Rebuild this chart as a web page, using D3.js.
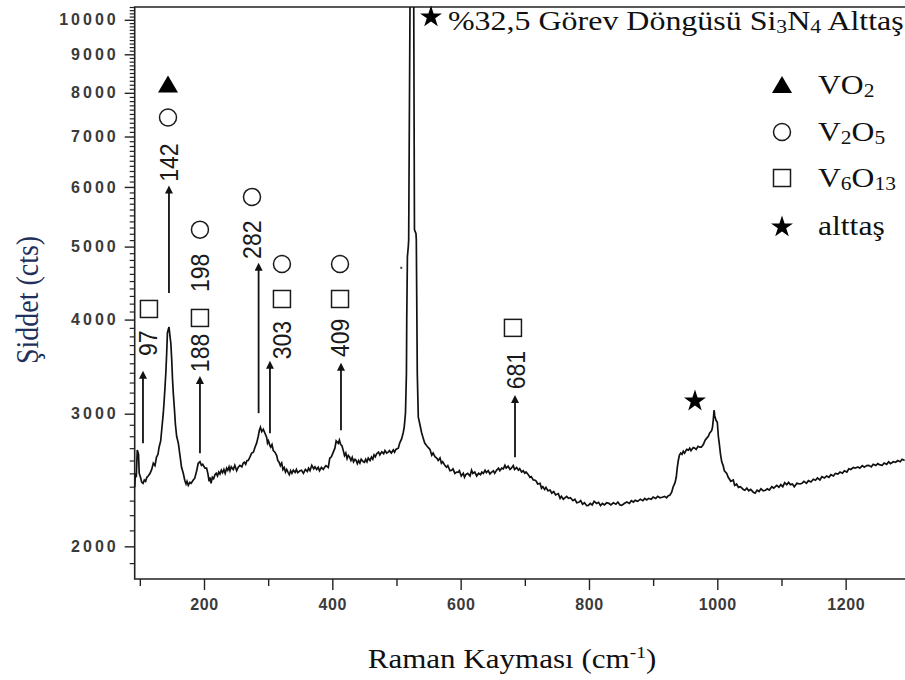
<!DOCTYPE html>
<html><head><meta charset="utf-8">
<script src="https://cdn.jsdelivr.net/npm/d3@7"></script>
<style>body{margin:0;background:#fff}svg{display:block}</style>
</head><body>
<script>
// ---- data ----
const spectrumShift = [92,93,94.5,96,98,99,101,103,105,107,109,111,113,116,118.5,121,123.6,126,128.3,130,132.5,134.5,136.5,138,139.2,140.5,141.8,143,144.3,145.5,147,148.3,149.6,151,152.1,154,155.5,157.4,160,162.6,165,167.7,170,172,173.5,175.5,178,180,183.3,185.5,188.6,191,193.7,196,198,201.5,204,206,208,209.3,211,213,215,217.1,219,221,223,224.9,227,229,231,233,235.3,237,239,240.5,242.5,245.6,248,250.9,253.4,256,259,261.2,263,265,267,269,271.5,274.3,277,279.5,282,284.6,286.2,288,290,292.4,295,297.7,299,300.5,302.8,304,306,308,310.5,313.3,315,317,319,321.1,323,325,327,328.9,331,333,335,337,339.2,342,344,346,349.6,352,355,358,361,363,365.2,368,371,373,375.6,378,380,383,385.9,388,390,393.7,396,398.5,401.5,404,406,409.3,411,413,415,417.1,419,421,423,424.9,427,429,431,433,435.3,437,439,441,443,445,448.3,450,452,454,456,458.7,461,463,465,467,469.1,472,474,477,480,482,484.7,487,489,492,495,497,499,502.8,505,508.1,510.6,512,513.2,514,514.8,515.5,516,517,518.4,519,522.3,525.5,526.2,528,530.4,530.9,532.4,534,536.6,539,541.8,544,547.1,549,552.2,555,557,560,563,565,567.8,570,572,575.6,578,580,583.4,586,588,591,593.8,596,598,601,604.1,606,608,611,614.6,617,619,622,625,628,631,633,635.3,638,640,643,645.7,648,651,653,656.2,659,661,664,666.5,669,671,674,676.9,679,682,684,687.3,690,692,695,697.6,700,702,705.4,708,710,713.2,716,718,720,723.7,726,728,731,733,736,739.3,742,745,748,752.2,755,757,760,765.3,768,771,775,778,780.9,784,787,790,793,796.4,799,802,805,808,812,815,818,821,824,827.6,831,834,838,842,845,848.3,851,855,859,863,866,869.1,872,876,880,884,887,890,893,897,900,904,907,910.7,914,918,921,923.6,926,928.9,931,934.1,936,937.5,939.2,941,943,945,947,949,952.3,955,957,959,962.6,965,967,970,973,975,978.2,981,983,986,988,991.3,992.5,993.8,995,996,998,1000,1001.6,1003,1005,1006.9,1009,1011,1014.7,1017,1019,1021,1024.9,1027,1030,1033,1036,1040.5,1043,1046,1049,1052,1056.1,1059,1062,1065,1068,1071.7,1075,1078,1081,1085,1088,1092.6,1096,1099,1102,1105,1108.2,1111,1114,1117,1120,1124,1128.9,1132,1135,1139,1142,1146,1149.6,1153,1156,1160,1163,1167,1170.5,1174,1177,1181,1184,1188,1191.2,1195,1198,1202,1205,1208,1212,1215,1219,1222,1226,1229,1232.9,1236,1240,1243,1247,1250,1253.6,1257,1260,1264,1267,1270,1274.3,1278,1281,1285,1288,1292];
const spectrumCounts = [2396,2500,2470,2684,2650,2501,2470,2432,2425,2450,2440,2470,2480,2501,2530,2578,2560,2627,2650,2708,2760,2878,3000,3128,3250,3397,3600,3840,3880,3910,3800,3724,3550,3326,3200,3034,2900,2800,2742,2640,2547,2501,2448,2420,2440,2410,2432,2425,2450,2462,2520,2578,2590,2562,2570,2540,2540,2500,2440,2470,2425,2470,2460,2490,2501,2480,2510,2495,2524,2505,2530,2500,2540,2524,2550,2520,2550,2530,2562,2520,2547,2562,2550,2580,2586,2570,2600,2600,2627,2660,2667,2708,2742,2800,2850,2878,2840,2860,2826,2790,2742,2760,2720,2708,2730,2680,2667,2640,2600,2586,2560,2580,2530,2545,2510,2530,2508,2490,2520,2500,2525,2508,2530,2505,2520,2524,2500,2530,2515,2540,2520,2562,2535,2550,2530,2547,2520,2545,2530,2547,2560,2545,2618,2630,2667,2700,2760,2740,2767,2730,2720,2680,2640,2660,2615,2640,2627,2600,2625,2590,2610,2602,2575,2600,2580,2610,2590,2586,2610,2590,2620,2600,2627,2610,2645,2630,2655,2667,2645,2670,2655,2680,2660,2667,2680,2660,2685,2667,2690,2700,2742,2780,2835,2878,2950,3006,3200,3397,4000,4846,5000,5100,16000,24000,16000,5266,5200,5106,3397,2968,2900,2835,2780,2742,2720,2708,2690,2643,2660,2630,2618,2600,2620,2578,2590,2560,2547,2560,2520,2524,2535,2500,2510,2508,2520,2480,2500,2470,2490,2500,2480,2524,2500,2510,2480,2501,2490,2510,2500,2524,2505,2520,2495,2508,2520,2500,2525,2540,2520,2540,2535,2562,2540,2555,2530,2540,2560,2530,2545,2524,2535,2510,2520,2501,2510,2490,2470,2475,2450,2448,2440,2420,2425,2389,2400,2380,2395,2370,2375,2353,2365,2340,2350,2316,2330,2310,2330,2316,2320,2300,2310,2285,2288,2300,2275,2285,2265,2267,2280,2270,2295,2280,2288,2265,2280,2270,2285,2281,2270,2285,2275,2290,2270,2267,2280,2290,2280,2300,2290,2302,2295,2310,2300,2315,2305,2316,2310,2325,2315,2330,2320,2324,2330,2320,2335,2338,2360,2396,2430,2470,2540,2600,2643,2660,2650,2675,2660,2690,2684,2700,2680,2705,2700,2690,2715,2708,2708,2730,2767,2780,2800,2826,2850,2878,2950,3034,2980,2940,2923,2800,2742,2650,2590,2562,2520,2500,2470,2455,2440,2450,2410,2420,2395,2400,2380,2374,2390,2370,2380,2360,2353,2375,2365,2385,2370,2374,2385,2375,2400,2390,2410,2396,2415,2400,2430,2415,2432,2415,2420,2400,2425,2420,2425,2440,2425,2445,2435,2455,2448,2465,2450,2475,2465,2480,2470,2490,2480,2500,2495,2510,2501,2520,2510,2535,2530,2545,2540,2550,2540,2560,2548,2560,2562,2550,2570,2560,2575,2565,2562,2580,2570,2590,2575,2590,2586,2600,2590,2610,2600,2618];

const strayShift = [507.4];
const strayCounts = [4686];

const yMajorTicks = [2000,3000,4000,5000,6000,7000,8000,9000,10000];
const xMajorTicks = [200,400,600,800,1000,1200];
const xMinorTicks = [100,300,500,700,900,1100,1300];

const peakLabels = ["97","142","188","198","282","303","409","681"];
const peakLabelShift = [112.7,145.4,193.7,193.7,274.8,321.5,412,686.2];
const peakLabelCounts = [3722,6464,3612,4614,5106,3756,3782,3428];

const arrowShift = [104.9,145.4,193.7,285.1,302.8,413.5,684.7];
const arrowFrom = [2741,4338,2658,3005,2826,2852,2627];
const arrowTo   = [3346,5896,3294,4656,3450,3428,3108];

const markerType   = ["triangle","circle","square","circle","square","circle","circle","square","circle","square","square","star"];
const markerShift  = [143.9,143.9,114.2,193.7,193.7,274.8,321.5,321.5,412,412,681.5,965.2];
const markerCounts = [8208,7418,4132,5266,4020,5820,4742,4260,4742,4260,3900,3128];

const legendTypes = ["triangle","circle","square","star"];
const legendLabels = [["V","O",["2"]],["V",["2"],"O",["5"]],["V",["6"],"O",["13"]],["alttaş"]];
const titleParts = ["%32,5 Görev Döngüsü Si",["3"],"N",["4"]," Alttaş"];

// ---- chart ----
const W = 905, H = 680;
const svg = d3.select("body").append("svg").attr("width", W).attr("height", H);

const x = d3.scaleLinear().domain([92, 1300]).range([134.7, 909.8]);
const y = d3.scaleLog().domain([1810, 10400]).range([579, 7]);
const pLeft = 134.7, pRight = 909.8, pTop = 7, pBottom = 579;

const defs = svg.append("defs");
defs.append("clipPath").attr("id","plotclip")
  .append("rect").attr("x", pLeft).attr("y", pTop).attr("width", pRight-pLeft).attr("height", pBottom-pTop);
const arrowDef = defs.append("marker").attr("id","ah")
  .attr("viewBox","0 0 10 10").attr("refX",5).attr("refY",9)
  .attr("markerWidth",8).attr("markerHeight",11).attr("markerUnits","userSpaceOnUse")
  .attr("orient","0");
arrowDef.append("path").attr("d","M5,0 L10,10 L0,10 Z").attr("fill","#111");

// y minor ticks
const yMinor = d3.range(1900, 10401, 100).filter(v => !yMajorTicks.includes(v));
svg.append("g").attr("transform",`translate(${pLeft},0)`)
  .call(d3.axisLeft(y).tickValues(yMinor).tickSize(5).tickFormat(""))
  .call(g => g.select(".domain").remove())
  .call(g => g.selectAll("text").remove())
  .call(g => g.selectAll("line").attr("stroke","#222").attr("stroke-width",1.2));
svg.append("g").attr("transform",`translate(${pLeft},0)`)
  .call(d3.axisLeft(y).tickValues(yMajorTicks).tickSize(10).tickPadding(6).tickFormat(d => String(d)))
  .call(g => g.select(".domain").remove())
  .call(g => g.selectAll("line").attr("stroke","#222").attr("stroke-width",1.4))
  .call(g => g.selectAll("text").attr("font-family","Liberation Sans, Arial, sans-serif")
      .attr("font-weight","bold").attr("font-size",16).attr("fill","#3a3a3a")
      .attr("letter-spacing","3px"));

// x ticks
svg.append("g").attr("transform",`translate(0,${pBottom})`)
  .call(d3.axisBottom(x).tickValues(xMinorTicks).tickSize(7).tickFormat(""))
  .call(g => g.select(".domain").remove())
  .call(g => g.selectAll("text").remove())
  .call(g => g.selectAll("line").attr("stroke","#222").attr("stroke-width",1.4));
svg.append("g").attr("transform",`translate(0,${pBottom})`)
  .call(d3.axisBottom(x).tickValues(xMajorTicks).tickSize(11).tickPadding(9).tickFormat(d => String(d)))
  .call(g => g.select(".domain").remove())
  .call(g => g.selectAll("line").attr("stroke","#222").attr("stroke-width",1.4))
  .call(g => g.selectAll("text").attr("font-family","Liberation Sans, Arial, sans-serif")
      .attr("font-weight","bold").attr("font-size",16).attr("fill","#3a3a3a")
      .attr("letter-spacing","0.6px"));

// frame
svg.append("path").attr("d",`M${pRight},${pTop} H${pLeft} V${pBottom} H${pRight}`)
  .attr("fill","none").attr("stroke","#222").attr("stroke-width",1.6);

// spectrum
const nPts = Math.min(spectrumShift.length, spectrumCounts.length);
const pts = d3.range(nPts).map(i => [spectrumShift[i], spectrumCounts[i]]);
svg.append("path").datum(pts).attr("clip-path","url(#plotclip)")
  .attr("d", d3.line().x(d => x(d[0])).y(d => y(d[1])))
  .attr("fill","none").attr("stroke","#111").attr("stroke-width",1.7).attr("stroke-linejoin","miter");
svg.selectAll("rect.stray").data(strayShift).join("rect").attr("class","stray")
  .attr("x", d => x(d)-1).attr("y",(d,i) => y(strayCounts[i])-1).attr("width",2).attr("height",2).attr("fill","#444");

// arrows
svg.selectAll("line.arrow").data(arrowShift).join("line").attr("class","arrow")
  .attr("x1", d => x(d)).attr("x2", d => x(d))
  .attr("y1", (d,i) => y(arrowFrom[i])).attr("y2", (d,i) => y(arrowTo[i]))
  .attr("stroke","#111").attr("stroke-width",1.8).attr("marker-end","url(#ah)");

// symbol helper
function drawSymbol(g, type, cx, cy) {
  if (type === "circle") {
    g.append("circle").attr("cx",cx).attr("cy",cy).attr("r",8.5)
      .attr("fill","none").attr("stroke","#1a1a1a").attr("stroke-width",1.5);
  } else if (type === "square") {
    g.append("rect").attr("x",cx-8.5).attr("y",cy-8.5).attr("width",17).attr("height",17)
      .attr("fill","none").attr("stroke","#1a1a1a").attr("stroke-width",1.5);
  } else if (type === "triangle") {
    g.append("path").attr("d",`M${cx},${cy-9} L${cx+10},${cy+8} L${cx-10},${cy+8} Z`).attr("fill","#000");
  } else if (type === "star") {
    g.append("path").attr("transform",`translate(${cx},${cy+1})`)
      .attr("d", d3.symbol(d3.symbolStar, 150)()).attr("fill","#000");
  }
}
const mg = svg.append("g");
markerType.forEach((t,i) => drawSymbol(mg, t, x(markerShift[i]), y(markerCounts[i])));

// peak labels (rotated)
svg.selectAll("text.peak").data(peakLabels).join("text").attr("class","peak")
  .attr("transform",(d,i) => `translate(${x(peakLabelShift[i])},${y(peakLabelCounts[i])}) scale(1.15,1) rotate(-90)`)
  .attr("text-anchor","middle").attr("dominant-baseline","central")
  .attr("font-family","Liberation Sans, Arial, sans-serif").attr("font-size",23).attr("fill","#1a1a1a")
  .text(d => d);

// rich text helper (subscripts as smaller, slightly lowered glyphs)
function richText(g, parts, size) {
  const t = g.append("text").attr("font-family","Liberation Serif, Times New Roman, serif")
    .attr("font-size",size).attr("fill","#111");
  let pendingDy = 0;
  parts.forEach(p => {
    if (Array.isArray(p)) {
      t.append("tspan").attr("font-size", size*0.68).attr("dy", 3 + pendingDy).text(p[0]);
      pendingDy = -3;
    } else {
      const s = t.append("tspan").text(p);
      if (pendingDy) s.attr("dy", pendingDy);
      pendingDy = 0;
    }
  });
  return t;
}

// title
drawSymbol(svg, "star", 431, 16);
richText(svg.append("g").attr("transform","translate(448,30) scale(1.15,1)"), titleParts, 27.8);

// legend
const legendY = [85, 132, 178, 226];
legendTypes.forEach((t,i) => {
  drawSymbol(svg, t, 782, legendY[i]);
  richText(svg.append("g").attr("transform",`translate(818,${legendY[i]+9}) scale(1.15,1)`), legendLabels[i], 27.5);
});

// axis titles
const xt = svg.append("g").attr("transform","translate(512,668) scale(1.15,1)");
const xtt = xt.append("text").attr("text-anchor","middle").attr("font-family","Liberation Serif, Times New Roman, serif")
  .attr("font-size",27).attr("fill","#111");
xtt.append("tspan").text("Raman Kayması (cm");
xtt.append("tspan").attr("font-size",17).attr("dy",-10).text("-1");
xtt.append("tspan").attr("dy",10).text(")");

svg.append("text").attr("transform","translate(38,300) scale(1.15,1) rotate(-90)")
  .attr("text-anchor","middle").attr("font-family","Liberation Serif, Times New Roman, serif")
  .attr("font-size",28).attr("fill","#22305a").text("Şiddet (cts)");
</script>
</body></html>
